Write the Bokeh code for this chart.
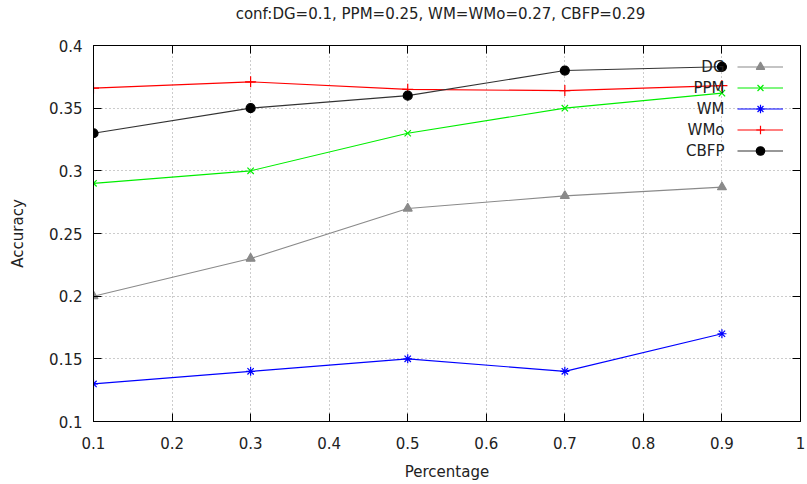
from bokeh.plotting import figure
from bokeh.layouts import column
from bokeh.models import Range1d, FixedTicker, LinearAxis, Legend, LegendItem, Label, Div
from bokeh.embed import file_html
from bokeh.resources import INLINE

title_text = "conf:DG=0.1, PPM=0.25, WM=WMo=0.27, CBFP=0.29"
percentage = [0.1, 0.3, 0.5, 0.7, 0.9]
dg = [0.20, 0.23, 0.27, 0.28, 0.287]
ppm = [0.29, 0.30, 0.33, 0.35, 0.362]
wm = [0.13, 0.14, 0.15, 0.14, 0.17]
wmo = [0.366, 0.371, 0.365, 0.364, 0.368]
cbfp = [0.33, 0.35, 0.36, 0.38, 0.383]
series_names = ["DG", "PPM", "WM", "WMo", "CBFP"]

x_ticks = [0.1, 0.2, 0.3, 0.4, 0.5, 0.6, 0.7, 0.8, 0.9, 1.0]
x_tick_labels = ["0.1", "0.2", "0.3", "0.4", "0.5", "0.6", "0.7", "0.8", "0.9", "1"]
y_ticks = [0.1, 0.15, 0.2, 0.25, 0.3, 0.35, 0.4]
y_tick_labels = ["0.1", "0.15", "0.2", "0.25", "0.3", "0.35", "0.4"]

FONT = "DejaVu Sans"
TXT = "#222222"
FS = "15px"

title_div = Div(
    text=('<div style="display:block;width:733px;margin-left:74px;text-align:center;'
          'font-family:\'DejaVu Sans\';font-size:15px;color:#222222;line-height:28px;'
          'white-space:nowrap;">' + title_text + '</div>'),
    width=807, height=28, margin=(0, 0, 0, 0))

p = figure(width=807, height=455, output_backend="svg", toolbar_location=None,
           x_range=Range1d(0.1, 1.0), y_range=Range1d(0.1, 0.4),
           min_border_left=93, min_border_right=7, min_border_top=17, min_border_bottom=10,
           x_axis_label="Percentage", y_axis_label="Accuracy")

p.outline_line_color = "black"
p.outline_line_width = 1
p.background_fill_color = "white"
p.border_fill_color = "white"

p.xaxis.ticker = FixedTicker(ticks=x_ticks)
p.yaxis.ticker = FixedTicker(ticks=y_ticks)
p.xaxis.major_label_overrides = dict(zip(x_ticks, x_tick_labels))
p.yaxis.major_label_overrides = dict(zip(y_ticks, y_tick_labels))

for ax in (p.xaxis, p.yaxis):
    ax.major_tick_in = 8
    ax.major_tick_out = 0
    ax.minor_tick_line_color = None
    ax.axis_line_color = "black"
    ax.major_tick_line_color = "black"
    ax.major_label_text_font = FONT
    ax.major_label_text_font_size = FS
    ax.major_label_text_color = TXT
    ax.axis_label_text_font = FONT
    ax.axis_label_text_font_size = FS
    ax.axis_label_text_font_style = "normal"
    ax.axis_label_text_color = TXT
p.xaxis.major_label_standoff = 15
p.xaxis.axis_label_standoff = 11
p.yaxis.major_label_standoff = 11
p.yaxis.axis_label_standoff = 19

for g in (p.xgrid, p.ygrid):
    g.grid_line_color = "#999999"
    g.grid_line_dash = "1 3"
    g.grid_line_width = 1
p.xgrid.ticker = FixedTicker(ticks=x_ticks)
p.ygrid.ticker = FixedTicker(ticks=y_ticks)

# mirror ticks (top and right), without labels
top = LinearAxis(ticker=FixedTicker(ticks=x_ticks))
right = LinearAxis(ticker=FixedTicker(ticks=y_ticks))
top.major_label_overrides = {t: "" for t in x_ticks}
right.major_label_overrides = {t: "" for t in y_ticks}
for ax in (top, right):
    ax.major_tick_in = 8
    ax.major_tick_out = 0
    ax.minor_tick_line_color = None
    ax.major_label_standoff = 0
    ax.axis_line_color = None
    ax.major_tick_line_color = "black"
p.add_layout(top, "above")
p.add_layout(right, "right")

styles = [
    ("#8a8a8a", "#8a8a8a", "triangle", 9),
    ("#00ee00", "#00ee00", "x", 9),
    ("#0000ff", "#0000ff", "asterisk", 9),
    ("#ff0000", "#ff0000", "cross", 11),
    ("#333333", "#000000", "circle", 9),
]
data = [dg, ppm, wm, wmo, cbfp]
items = []
for name, ys, (lcolor, mcolor, marker, size) in zip(series_names, data, styles):
    ln = p.line(percentage, ys, line_color=lcolor, line_width=1.1)
    sc = p.scatter(percentage, ys, marker=marker, size=size, line_color=mcolor,
                   fill_color=mcolor if marker in ("triangle", "circle") else None,
                   line_width=1.2)
    items.append(LegendItem(label="", renderers=[ln, sc]))

# gnuplot-style key: samples on the right, right-aligned names on their left
legend = Legend(items=items, location=(644, 260))
legend.border_line_color = None
legend.background_fill_alpha = 0
legend.label_text_font_size = "1px"
legend.label_standoff = 0
legend.glyph_width = 46
legend.glyph_height = 21
legend.label_height = 21
legend.label_width = 0
legend.spacing = 0
legend.padding = 0
legend.margin = 0
p.add_layout(legend)

for i, name in enumerate(series_names):
    p.add_layout(Label(x=631, y=355 - 21 * i, x_units="screen", y_units="screen",
                       text=name, text_align="right", text_baseline="middle",
                       text_font=FONT, text_font_size=FS, text_color=TXT))

layout = column(title_div, p, spacing=0)
open("out.html", "w").write(file_html(layout, INLINE))
